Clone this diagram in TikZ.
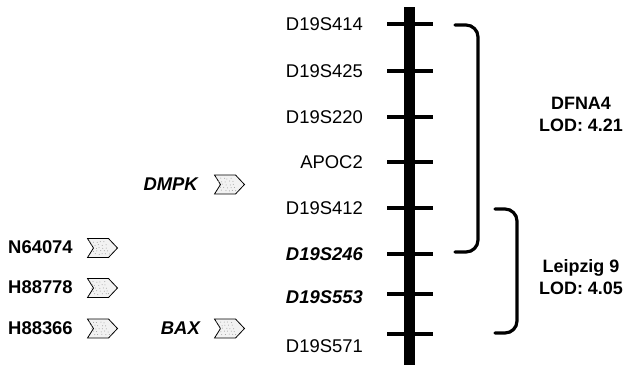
\documentclass[tikz,border=0pt]{standalone}
\usepackage{fontspec}
\setmainfont{Liberation Sans}
\begin{document}
\begin{tikzpicture}[x=1bp,y=-1bp,
  mk/.style={font=\fontsize{18.5}{22}\selectfont, inner sep=0pt, anchor=base east},
  mkb/.style={mk, font=\fontsize{18.5}{22}\selectfont\bfseries\itshape},
  gene/.style={font=\fontsize{18.5}{22}\selectfont\bfseries\itshape, inner sep=0pt, anchor=base east},
  est/.style={font=\fontsize{18.5}{22}\selectfont\bfseries, inner sep=0pt, anchor=base west},
  tick/.style={line width=3.2bp},
  brk/.style={line width=3.2bp, rounded corners=12bp, line cap=round},
  lod/.style={font=\fontsize{18}{22}\selectfont\bfseries, align=center, inner sep=0pt},
  chevron/.pic={\draw[line width=0.8bp, fill=gray!10] (-15,-9.5) -- (6,-9.5) -- (15,0) -- (6,9.5) -- (-15,9.5) -- (-9,0) -- cycle;
    \foreach \i in {-10,-6.5,...,6}{\foreach \j in {-6,-3,0,3,6}{\fill[gray!75] (\i+0.4*\j+0.8*rand,\j+0.5*rand) circle (0.5bp);}}}
]
\useasboundingbox (0,0) rectangle (626,365);
% chromosome
\fill (404,7) rectangle (415,365);
\foreach \y/\n in {24/a,71/b,117/c,162/d,208/e,254/f,294/g,334/h}{
  \coordinate (tl\n) at (387,\y); \coordinate (tr\n) at (433,\y);
  \draw[tick] (tl\n) -- (tr\n);
}
% marker labels
\node[mk] (m1) at (363,30.6) {D19S414};
\node[mk] (m2) at (363,77.6) {D19S425};
\node[mk] (m3) at (363,123.6) {D19S220};
\node[mk] (m4) at (363,168.6) {APOC2};
\node[mk] (m5) at (363,214.2) {D19S412};
\node[mkb] (m6) at (363,260.6) {D19S246};
\node[mkb] (m7) at (363,303.6) {D19S553};
\node[mk] (m8) at (363,352.6) {D19S571};
% brackets
\coordinate (b1a) at (455,25); \coordinate (b1b) at (478,25);
\coordinate (b1c) at (478,252); \coordinate (b1d) at (455,252);
\draw[brk] (b1a) -- (b1b) -- (b1c) -- (b1d);
\coordinate (b2a) at (495,209); \coordinate (b2b) at (517,209);
\coordinate (b2c) at (517,333); \coordinate (b2d) at (495,333);
\draw[brk] (b2a) -- (b2b) -- (b2c) -- (b2d);
\node[lod] (l1) at (581,114) {DFNA4\\LOD: 4.21};
\node[lod] (l2) at (581,277) {Leipzig 9\\LOD: 4.05};
% genes and ESTs
\node[gene] (g1) at (198,190.6) {DMPK};
\pic at (229.5,184.5) {chevron};
\node[gene] (g2) at (200,334.6) {BAX};
\pic at (229.5,328.5) {chevron};
\node[est] (e1) at (8,253.6) {N64074};
\pic at (102.5,248) {chevron};
\node[est] (e2) at (8,293.6) {H88778};
\pic at (102.5,288) {chevron};
\node[est] (e3) at (8,334.6) {H88366};
\pic at (102.5,328.5) {chevron};
\end{tikzpicture}
\end{document}
